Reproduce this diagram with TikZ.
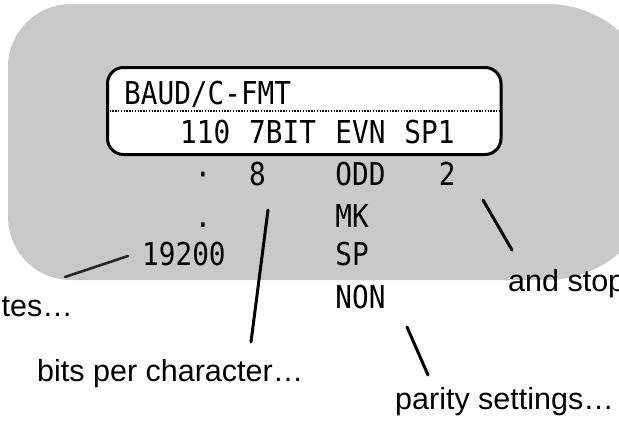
\documentclass[tikz,border=0pt]{standalone}
\usepackage{fontspec}
\newfontfamily\lcdfont[FakeStretch=0.88]{DejaVu Sans Mono}
\newfontfamily\callfont{Liberation Sans}
\begin{document}
\begin{tikzpicture}[x=1pt,y=-1pt,
  lcdtext/.style={font=\lcdfont\fontsize{31.5}{31.5}\selectfont, inner sep=0pt, anchor=base west},
  calltext/.style={font=\callfont\fontsize{30.5}{30.5}\selectfont, inner sep=0pt, anchor=base west},
  lead/.style={line width=3pt, line cap=round},
  blob/.style={fill=black!21},
  lcdbox/.style={draw, line width=3pt, fill=white, rounded corners=16pt, inner sep=0pt,
                 minimum width=393.5pt, minimum height=87pt},
  sep/.style={line width=2pt, dash pattern=on 1.4pt off 1.4pt}]
\useasboundingbox (0,0) rectangle (619,423);
% grey background
\fill[blob] (330,4) [rounded corners=110pt] -- (657,4) -- (657,280) -- (330,280)
            [rounded corners=63pt] -- (8,280) -- (8,4) -- (330,4);
% LCD display
\node[lcdbox] (lcd) at (304.25,111) {};
\coordinate (sepl) at (109.5,111);
\coordinate (sepr) at (499.5,111);
\draw[sep] (sepl) -- (sepr);
\node[lcdtext] (title) at (124,104) {BAUD/C-FMT};
\node[lcdtext] (v110) at (180,143) {110};
\node[lcdtext] (v7bit) at (249,143) {7BIT};
\node[lcdtext] (vevn) at (335.25,143) {EVN};
\node[lcdtext] (vsp1) at (404.25,143) {SP1};
% option columns
\node[lcdtext, anchor=base] (dota) at (203,185) {·};
\node[lcdtext] (v8) at (249,185) {8};
\node[lcdtext] (vodd) at (335.25,185) {ODD};
\node[lcdtext] (v2) at (438.75,185) {2};
\node[lcdtext, anchor=base] (dotb) at (203,227) {.};
\node[lcdtext] (vmk) at (335.25,227) {MK};
\node[lcdtext] (v19200) at (142,265) {19200};
\node[lcdtext] (vsp) at (335.25,265) {SP};
\node[lcdtext] (vnon) at (335.25,308) {NON};
% callouts
\node[calltext, anchor=base east] (rates) at (73,316) {tes…};
\node[calltext] (bits) at (37,381) {bits per character…};
\node[calltext] (parity) at (395,409) {parity settings…};
\node[calltext] (stop) at (508,291) {and stop};
% leader lines
\coordinate (ra) at (128,256);
\coordinate (rb) at (65,277);
\draw[lead, line width=2.6pt, black!85] (ra) -- (rb);
\coordinate (ba) at (268,210);
\coordinate (bb) at (251,342);
\draw[lead] (ba) -- (bb);
\coordinate (pa) at (407,327);
\coordinate (pb) at (428,375);
\draw[lead] (pa) -- (pb);
\coordinate (sa) at (483,200);
\coordinate (sb) at (512,250);
\draw[lead] (sa) -- (sb);
\end{tikzpicture}
\end{document}
